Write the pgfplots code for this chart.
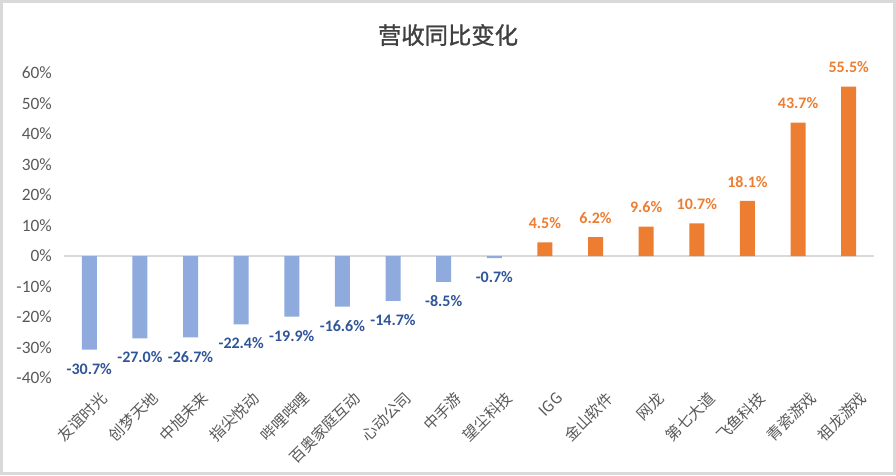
\documentclass[border=0pt]{standalone}
\usepackage{fontspec}
\setmainfont{Carlito}
\newfontfamily\cjk{Noto Sans CJK SC}
\newfontfamily\cjktitle{Noto Sans CJK SC}[FakeBold=1.2]
\usepackage{pgfplots}
\pgfplotsset{compat=1.18}

\definecolor{negbar}{HTML}{8FAADC}
\definecolor{posbar}{HTML}{ED7D31}
\definecolor{neglabel}{HTML}{2F5597}
\definecolor{poslabel}{HTML}{ED7D31}
\definecolor{ticktext}{HTML}{595959}
\definecolor{titlegray}{HTML}{404040}
\definecolor{zeroline}{HTML}{D9D9D9}
\definecolor{framegray}{HTML}{D9D9D9}

\begin{document}
\begin{tikzpicture}
\useasboundingbox (0,0) rectangle (672pt,356.25pt);
\draw[framegray, line width=2pt] (1pt,1pt) rectangle (671pt,355.25pt);
\node[font=\cjktitle\fontsize{17.5}{20}\selectfont, text=titlegray] at (336pt,330pt) {营收同比变化};
\begin{axis}[
    at={(48pt,72.75pt)}, anchor=south west,
    scale only axis,
    width=607.5pt, height=228.75pt,
    xmin=-0.5, xmax=15.5,
    ymin=-40, ymax=60,
    axis line style={draw=none},
    tick style={draw=none},
    ytick={-40,-30,...,60},
    yticklabel={\pgfmathprintnumber[assume math mode=true]{\tick}\%},
    yticklabel style={font=\fontsize{13}{15}\selectfont, text=ticktext, anchor=east, inner sep=0pt, xshift=-9pt},
    extra y ticks={0},
    extra y tick labels={},
    extra y tick style={grid=major, major grid style={draw=zeroline, line width=1.1pt}},
    xtick={0,...,15},
    xticklabels={友谊时光,创梦天地,中旭未来,指尖悦动,哔哩哔哩,百奥家庭互动,心动公司,中手游,望尘科技,IGG,金山软件,网龙,第七大道,飞鱼科技,青瓷游戏,祖龙游戏},
    xticklabel style={font=\cjk\fontsize{11.5}{13}\selectfont, text=ticktext, rotate=45, anchor=east, inner sep=0pt, xshift=2pt, yshift=-14pt},
    ybar,
    bar width=11.25pt,
    bar shift=0pt,
    nodes near coords={\pgfmathprintnumber[fixed,fixed zerofill,precision=1,assume math mode=true]{\pgfplotspointmeta}\%},
    every node near coord/.append style={font=\bfseries\fontsize{12}{14}\selectfont, inner ysep=10pt},
    clip=false,
]
% declines
\addplot[fill=negbar, draw=none, every node near coord/.append style={text=neglabel}]
    coordinates {(0,-30.7)(1,-27.0)(2,-26.7)(3,-22.4)(4,-19.9)(5,-16.6)(6,-14.7)(7,-8.5)(8,-0.7)};
% growth
\addplot[fill=posbar, draw=none, every node near coord/.append style={text=poslabel}]
    coordinates {(9,4.5)(10,6.2)(11,9.6)(12,10.7)(13,18.1)(14,43.7)(15,55.5)};
\end{axis}
\end{tikzpicture}
\end{document}
